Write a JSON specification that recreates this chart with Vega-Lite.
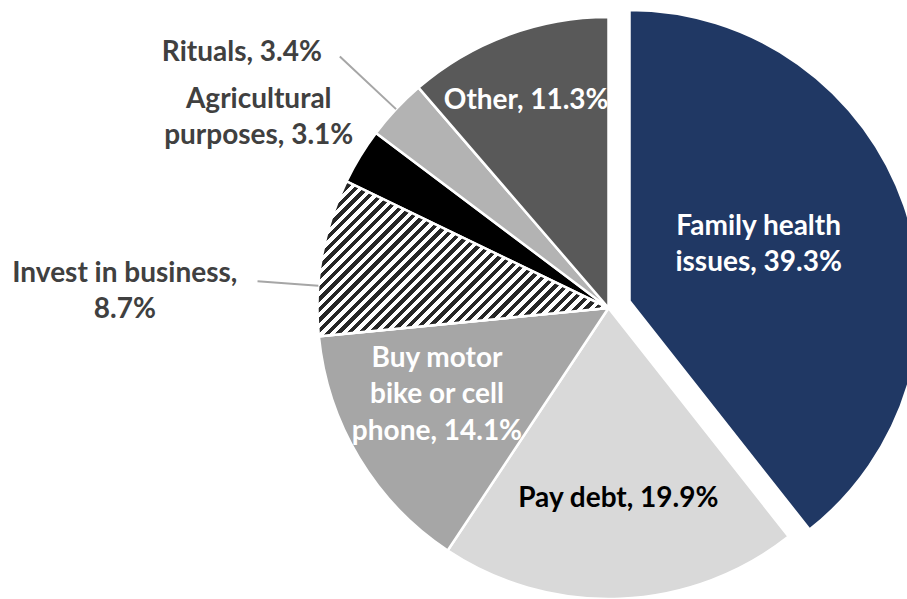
{
  "$schema": "https://vega.github.io/schema/vega-lite/v6.json",
  "width": 597,
  "height": 582,
  "autosize": {"type": "none"},
  "padding": {"left": 310, "top": 17, "right": 0, "bottom": 0},
  "background": "white",
  "view": {"stroke": null},
  "data": {
    "values": [
      {"cat": "Family health issues", "v": 39.3, "idx": 1, "label": "Family health\nissues, 39.3%"},
      {"cat": "Pay debt", "v": 19.9, "idx": 2, "label": "Pay debt, 19.9%"},
      {"cat": "Buy motor bike or cell phone", "v": 14.1, "idx": 3, "label": "Buy motor\nbike or cell\nphone, 14.1%"},
      {"cat": "Invest in business", "v": 8.7, "idx": 4, "label": "Invest in business,\n8.7%"},
      {"cat": "Agricultural purposes", "v": 3.1, "idx": 5, "label": "Agricultural\npurposes, 3.1%"},
      {"cat": "Rituals", "v": 3.4, "idx": 6, "label": "Rituals, 3.4%"},
      {"cat": "Other", "v": 11.3, "idx": 7, "label": "Other, 11.3%"}
    ]
  },
  "encoding": {
    "theta": {"field": "v", "type": "quantitative", "stack": true},
    "order": {"field": "idx", "type": "quantitative"},
    "detail": {"field": "cat", "type": "nominal"}
  },
  "layer": [
    {
      "mark": {"type": "arc", "stroke": "white", "strokeWidth": 2.5},
      "encoding": {
        "color": {
          "field": "cat", "type": "nominal", "legend": null,
          "scale": {
            "domain": ["Family health issues", "Pay debt", "Buy motor bike or cell phone", "Invest in business", "Agricultural purposes", "Rituals", "Other"],
            "range": ["#203864", "#d9d9d9", "#a6a6a6", "#ffffff", "#000000", "#b3b3b3", "#595959"]
          }
        },
        "opacity": {"condition": {"test": "datum.cat === 'Family health issues'", "value": 0}, "value": 1}
      }
    },
    {
      "mark": {
        "type": "arc", "stroke": "white", "strokeWidth": 2.5,
        "fill": {
          "gradient": "linear", "x1": 0, "y1": 0, "x2": 1.1943, "y2": 0.6361,
          "stops": [
            {"offset": 0, "color": "#262626"}, {"offset": 0.0119, "color": "#262626"}, {"offset": 0.0119, "color": "#ffffff"}, {"offset": 0.0238, "color": "#ffffff"},
            {"offset": 0.0238, "color": "#262626"}, {"offset": 0.0357, "color": "#262626"}, {"offset": 0.0357, "color": "#ffffff"}, {"offset": 0.0476, "color": "#ffffff"},
            {"offset": 0.0476, "color": "#262626"}, {"offset": 0.0595, "color": "#262626"}, {"offset": 0.0595, "color": "#ffffff"}, {"offset": 0.0714, "color": "#ffffff"},
            {"offset": 0.0714, "color": "#262626"}, {"offset": 0.0833, "color": "#262626"}, {"offset": 0.0833, "color": "#ffffff"}, {"offset": 0.0952, "color": "#ffffff"},
            {"offset": 0.0952, "color": "#262626"}, {"offset": 0.1071, "color": "#262626"}, {"offset": 0.1071, "color": "#ffffff"}, {"offset": 0.1190, "color": "#ffffff"},
            {"offset": 0.1190, "color": "#262626"}, {"offset": 0.1310, "color": "#262626"}, {"offset": 0.1310, "color": "#ffffff"}, {"offset": 0.1429, "color": "#ffffff"},
            {"offset": 0.1429, "color": "#262626"}, {"offset": 0.1548, "color": "#262626"}, {"offset": 0.1548, "color": "#ffffff"}, {"offset": 0.1667, "color": "#ffffff"},
            {"offset": 0.1667, "color": "#262626"}, {"offset": 0.1786, "color": "#262626"}, {"offset": 0.1786, "color": "#ffffff"}, {"offset": 0.1905, "color": "#ffffff"},
            {"offset": 0.1905, "color": "#262626"}, {"offset": 0.2024, "color": "#262626"}, {"offset": 0.2024, "color": "#ffffff"}, {"offset": 0.2143, "color": "#ffffff"},
            {"offset": 0.2143, "color": "#262626"}, {"offset": 0.2262, "color": "#262626"}, {"offset": 0.2262, "color": "#ffffff"}, {"offset": 0.2381, "color": "#ffffff"},
            {"offset": 0.2381, "color": "#262626"}, {"offset": 0.2500, "color": "#262626"}, {"offset": 0.2500, "color": "#ffffff"}, {"offset": 0.2619, "color": "#ffffff"},
            {"offset": 0.2619, "color": "#262626"}, {"offset": 0.2738, "color": "#262626"}, {"offset": 0.2738, "color": "#ffffff"}, {"offset": 0.2857, "color": "#ffffff"},
            {"offset": 0.2857, "color": "#262626"}, {"offset": 0.2976, "color": "#262626"}, {"offset": 0.2976, "color": "#ffffff"}, {"offset": 0.3095, "color": "#ffffff"},
            {"offset": 0.3095, "color": "#262626"}, {"offset": 0.3214, "color": "#262626"}, {"offset": 0.3214, "color": "#ffffff"}, {"offset": 0.3333, "color": "#ffffff"},
            {"offset": 0.3333, "color": "#262626"}, {"offset": 0.3452, "color": "#262626"}, {"offset": 0.3452, "color": "#ffffff"}, {"offset": 0.3571, "color": "#ffffff"},
            {"offset": 0.3571, "color": "#262626"}, {"offset": 0.3690, "color": "#262626"}, {"offset": 0.3690, "color": "#ffffff"}, {"offset": 0.3810, "color": "#ffffff"},
            {"offset": 0.3810, "color": "#262626"}, {"offset": 0.3929, "color": "#262626"}, {"offset": 0.3929, "color": "#ffffff"}, {"offset": 0.4048, "color": "#ffffff"},
            {"offset": 0.4048, "color": "#262626"}, {"offset": 0.4167, "color": "#262626"}, {"offset": 0.4167, "color": "#ffffff"}, {"offset": 0.4286, "color": "#ffffff"},
            {"offset": 0.4286, "color": "#262626"}, {"offset": 0.4405, "color": "#262626"}, {"offset": 0.4405, "color": "#ffffff"}, {"offset": 0.4524, "color": "#ffffff"},
            {"offset": 0.4524, "color": "#262626"}, {"offset": 0.4643, "color": "#262626"}, {"offset": 0.4643, "color": "#ffffff"}, {"offset": 0.4762, "color": "#ffffff"},
            {"offset": 0.4762, "color": "#262626"}, {"offset": 0.4881, "color": "#262626"}, {"offset": 0.4881, "color": "#ffffff"}, {"offset": 0.5000, "color": "#ffffff"},
            {"offset": 0.5000, "color": "#262626"}, {"offset": 0.5119, "color": "#262626"}, {"offset": 0.5119, "color": "#ffffff"}, {"offset": 0.5238, "color": "#ffffff"},
            {"offset": 0.5238, "color": "#262626"}, {"offset": 0.5357, "color": "#262626"}, {"offset": 0.5357, "color": "#ffffff"}, {"offset": 0.5476, "color": "#ffffff"},
            {"offset": 0.5476, "color": "#262626"}, {"offset": 0.5595, "color": "#262626"}, {"offset": 0.5595, "color": "#ffffff"}, {"offset": 0.5714, "color": "#ffffff"},
            {"offset": 0.5714, "color": "#262626"}, {"offset": 0.5833, "color": "#262626"}, {"offset": 0.5833, "color": "#ffffff"}, {"offset": 0.5952, "color": "#ffffff"},
            {"offset": 0.5952, "color": "#262626"}, {"offset": 0.6071, "color": "#262626"}, {"offset": 0.6071, "color": "#ffffff"}, {"offset": 0.6190, "color": "#ffffff"},
            {"offset": 0.6190, "color": "#262626"}, {"offset": 0.6310, "color": "#262626"}, {"offset": 0.6310, "color": "#ffffff"}, {"offset": 0.6429, "color": "#ffffff"},
            {"offset": 0.6429, "color": "#262626"}, {"offset": 0.6548, "color": "#262626"}, {"offset": 0.6548, "color": "#ffffff"}, {"offset": 0.6667, "color": "#ffffff"},
            {"offset": 0.6667, "color": "#262626"}, {"offset": 0.6786, "color": "#262626"}, {"offset": 0.6786, "color": "#ffffff"}, {"offset": 0.6905, "color": "#ffffff"},
            {"offset": 0.6905, "color": "#262626"}, {"offset": 0.7024, "color": "#262626"}, {"offset": 0.7024, "color": "#ffffff"}, {"offset": 0.7143, "color": "#ffffff"},
            {"offset": 0.7143, "color": "#262626"}, {"offset": 0.7262, "color": "#262626"}, {"offset": 0.7262, "color": "#ffffff"}, {"offset": 0.7381, "color": "#ffffff"},
            {"offset": 0.7381, "color": "#262626"}, {"offset": 0.7500, "color": "#262626"}, {"offset": 0.7500, "color": "#ffffff"}, {"offset": 0.7619, "color": "#ffffff"},
            {"offset": 0.7619, "color": "#262626"}, {"offset": 0.7738, "color": "#262626"}, {"offset": 0.7738, "color": "#ffffff"}, {"offset": 0.7857, "color": "#ffffff"},
            {"offset": 0.7857, "color": "#262626"}, {"offset": 0.7976, "color": "#262626"}, {"offset": 0.7976, "color": "#ffffff"}, {"offset": 0.8095, "color": "#ffffff"},
            {"offset": 0.8095, "color": "#262626"}, {"offset": 0.8214, "color": "#262626"}, {"offset": 0.8214, "color": "#ffffff"}, {"offset": 0.8333, "color": "#ffffff"},
            {"offset": 0.8333, "color": "#262626"}, {"offset": 0.8452, "color": "#262626"}, {"offset": 0.8452, "color": "#ffffff"}, {"offset": 0.8571, "color": "#ffffff"},
            {"offset": 0.8571, "color": "#262626"}, {"offset": 0.8690, "color": "#262626"}, {"offset": 0.8690, "color": "#ffffff"}, {"offset": 0.8810, "color": "#ffffff"},
            {"offset": 0.8810, "color": "#262626"}, {"offset": 0.8929, "color": "#262626"}, {"offset": 0.8929, "color": "#ffffff"}, {"offset": 0.9048, "color": "#ffffff"},
            {"offset": 0.9048, "color": "#262626"}, {"offset": 0.9167, "color": "#262626"}, {"offset": 0.9167, "color": "#ffffff"}, {"offset": 0.9286, "color": "#ffffff"},
            {"offset": 0.9286, "color": "#262626"}, {"offset": 0.9405, "color": "#262626"}, {"offset": 0.9405, "color": "#ffffff"}, {"offset": 0.9524, "color": "#ffffff"},
            {"offset": 0.9524, "color": "#262626"}, {"offset": 0.9643, "color": "#262626"}, {"offset": 0.9643, "color": "#ffffff"}, {"offset": 0.9762, "color": "#ffffff"},
            {"offset": 0.9762, "color": "#262626"}, {"offset": 0.9881, "color": "#262626"}, {"offset": 0.9881, "color": "#ffffff"}, {"offset": 1, "color": "#ffffff"}
          ]
        }
      },
      "encoding": {
        "opacity": {"condition": {"test": "datum.cat === 'Invest in business'", "value": 1}, "value": 0}
      }
    },
    {
      "mark": {"type": "arc", "fill": "#203864", "stroke": "white", "strokeWidth": 2.5, "xOffset": 21, "yOffset": -7},
      "encoding": {
        "opacity": {"condition": {"test": "datum.cat === 'Family health issues'", "value": 1}, "value": 0}
      }
    },
    {
      "mark": {"type": "arc", "innerRadius": 291, "outerRadius": 368, "padAngle": 3, "fillOpacity": 0, "stroke": "#a6a6a6", "strokeWidth": 2},
      "encoding": {
        "opacity": {"condition": {"test": "datum.cat === 'Rituals'", "value": 1}, "value": 0}
      }
    },
    {
      "mark": {"type": "arc", "innerRadius": 291, "outerRadius": 352, "padAngle": 3, "thetaOffset": -0.1, "theta2Offset": -0.1, "fillOpacity": 0, "stroke": "#a6a6a6", "strokeWidth": 2},
      "encoding": {
        "opacity": {"condition": {"test": "datum.cat === 'Invest in business'", "value": 1}, "value": 0}
      }
    },
    {
      "mark": {"type": "text", "radius": 160, "dx": -1, "dy": -29, "font": "Lato", "fontSize": 28, "fontWeight": "bold", "lineBreak": "\n", "lineHeight": 36.5, "color": "#ffffff"},
      "encoding": {"text": {"condition": {"test": "datum.cat === 'Family health issues'", "field": "label", "type": "nominal"}, "value": ""}}
    },
    {
      "mark": {"type": "text", "radius": 191, "dx": 2, "dy": 0, "font": "Lato", "fontSize": 28, "fontWeight": "bold", "lineBreak": "\n", "lineHeight": 36.5, "color": "#000000"},
      "encoding": {"text": {"condition": {"test": "datum.cat === 'Pay debt'", "field": "label", "type": "nominal"}, "value": ""}}
    },
    {
      "mark": {"type": "text", "radius": 192, "dx": -7, "dy": -48, "font": "Lato", "fontSize": 28, "fontWeight": "bold", "lineBreak": "\n", "lineHeight": 36.5, "color": "#ffffff"},
      "encoding": {"text": {"condition": {"test": "datum.cat === 'Buy motor bike or cell phone'", "field": "label", "type": "nominal"}, "value": ""}}
    },
    {
      "mark": {"type": "text", "radius": 222, "dx": -5, "dy": 1, "font": "Lato", "fontSize": 28, "fontWeight": "bold", "lineBreak": "\n", "lineHeight": 36.5, "color": "#ffffff"},
      "encoding": {"text": {"condition": {"test": "datum.cat === 'Other'", "field": "label", "type": "nominal"}, "value": ""}}
    },
    {
      "mark": {"type": "text", "radius": 470, "dx": -21, "dy": 48, "font": "Lato", "fontSize": 28, "fontWeight": "bold", "lineBreak": "\n", "lineHeight": 36.5, "color": "#404040"},
      "encoding": {"text": {"condition": {"test": "datum.cat === 'Invest in business'", "field": "label", "type": "nominal"}, "value": ""}}
    },
    {
      "mark": {"type": "text", "radius": 398, "dx": -10, "dy": -1, "font": "Lato", "fontSize": 28, "fontWeight": "bold", "lineBreak": "\n", "lineHeight": 36.5, "color": "#404040"},
      "encoding": {"text": {"condition": {"test": "datum.cat === 'Agricultural purposes'", "field": "label", "type": "nominal"}, "value": ""}}
    },
    {
      "mark": {"type": "text", "radius": 446, "dx": -41, "dy": 50, "font": "Lato", "fontSize": 28, "fontWeight": "bold", "lineBreak": "\n", "lineHeight": 36.5, "color": "#404040"},
      "encoding": {"text": {"condition": {"test": "datum.cat === 'Rituals'", "field": "label", "type": "nominal"}, "value": ""}}
    }
  ]
}
